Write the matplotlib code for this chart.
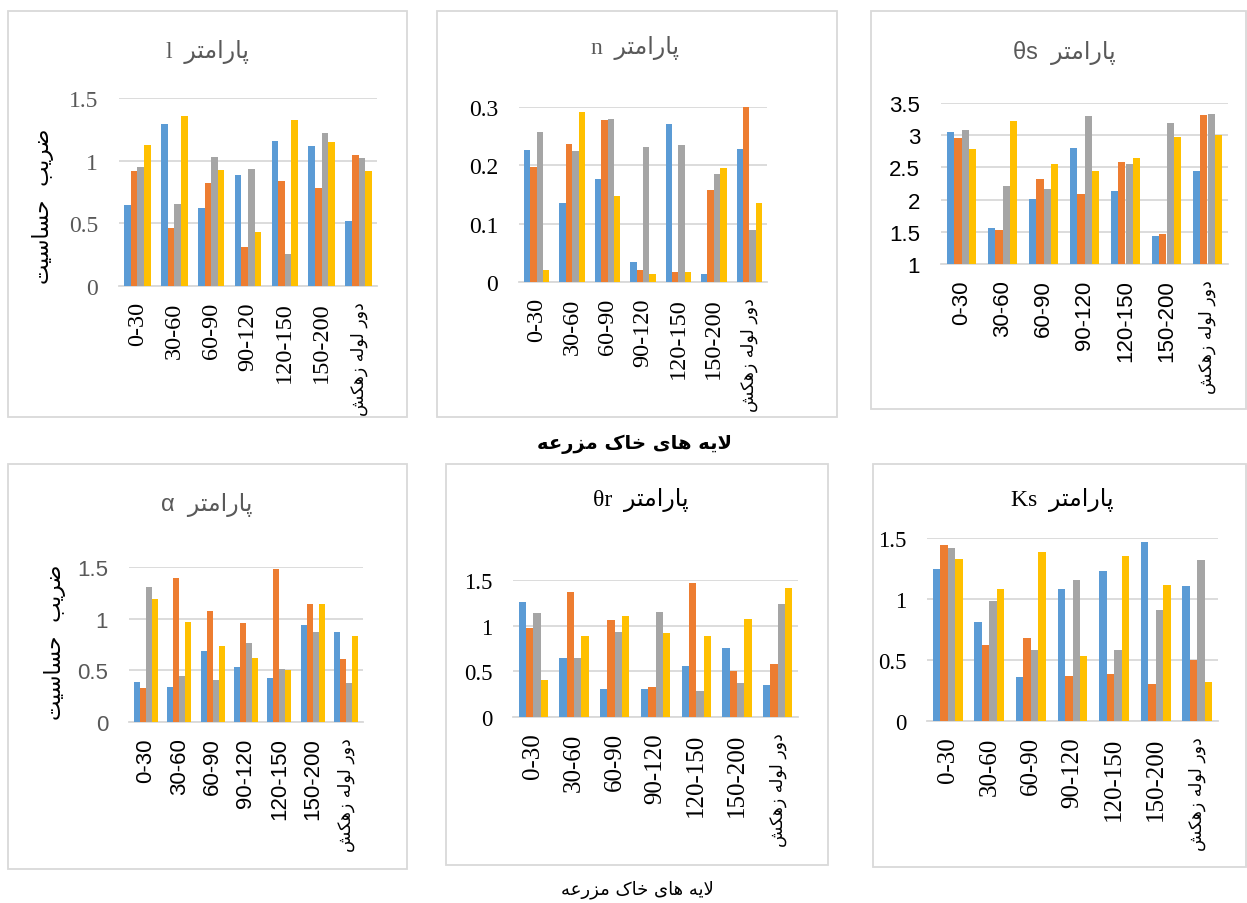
import matplotlib.pyplot as plt
from matplotlib.patches import Rectangle
import numpy as np

W, H = 1247, 904

# Persian letters -> (isolated, final, initial, medial) presentation forms
FORMS = {
    'ا': ('\uFE8D', '\uFE8E', None, None),
    'ب': ('\uFE8F', '\uFE90', '\uFE91', '\uFE92'),
    'پ': ('\uFB56', '\uFB57', '\uFB58', '\uFB59'),
    'ت': ('\uFE95', '\uFE96', '\uFE97', '\uFE98'),
    'ح': ('\uFEA1', '\uFEA2', '\uFEA3', '\uFEA4'),
    'خ': ('\uFEA5', '\uFEA6', '\uFEA7', '\uFEA8'),
    'د': ('\uFEA9', '\uFEAA', None, None),
    'ر': ('\uFEAD', '\uFEAE', None, None),
    'ز': ('\uFEAF', '\uFEB0', None, None),
    'س': ('\uFEB1', '\uFEB2', '\uFEB3', '\uFEB4'),
    'ش': ('\uFEB5', '\uFEB6', '\uFEB7', '\uFEB8'),
    'ض': ('\uFEBD', '\uFEBE', '\uFEBF', '\uFEC0'),
    'ع': ('\uFEC9', '\uFECA', '\uFECB', '\uFECC'),
    'ک': ('\uFB8E', '\uFB8F', '\uFB90', '\uFB91'),
    'ل': ('\uFEDD', '\uFEDE', '\uFEDF', '\uFEE0'),
    'م': ('\uFEE1', '\uFEE2', '\uFEE3', '\uFEE4'),
    'ه': ('\uFEE9', '\uFEEA', '\uFEEB', '\uFEEC'),
    'و': ('\uFEED', '\uFEEE', None, None),
    'ی': ('\uFBFC', '\uFBFD', '\uFBFE', '\uFBFF'),
}


def fa(s):
    # shape persian text and put it in visual (left to right) order
    out = []
    i = 0
    while i < len(s):
        ch = s[i]
        if ch not in FORMS:
            out.append(ch)
            i += 1
            continue
        prev = s[i-1] if i > 0 else ''
        jp = prev in FORMS and FORMS[prev][2] is not None
        if ch == 'ل' and i + 1 < len(s) and s[i+1] == 'ا':
            out.append('\uFEFC' if jp else '\uFEFB')
            i += 2
            continue
        nxt = s[i+1] if i + 1 < len(s) else ''
        jn = nxt in FORMS and FORMS[ch][2] is not None
        f = FORMS[ch]
        if jp and jn:
            out.append(f[3])
        elif jp:
            out.append(f[1])
        elif jn:
            out.append(f[2])
        else:
            out.append(f[0])
        i += 1
    return ''.join(out[::-1])


categories = ['0-30', '30-60', '60-90', '90-120', '120-150', '150-200', 'دور لوله زهکش']
colors = ['#5B9BD5', '#ED7D31', '#A5A5A5', '#FFC000']

# parameter l
l_blue = [0.65, 1.294, 0.622, 0.889, 1.158, 1.116, 0.518]
l_orange = [0.915, 0.462, 0.822, 0.315, 0.835, 0.785, 1.046]
l_gray = [0.953, 0.654, 1.027, 0.931, 0.259, 1.22, 1.022]
l_yellow = [1.126, 1.358, 0.923, 0.432, 1.326, 1.148, 0.918]

# parameter n
n_blue = [0.226, 0.135, 0.176, 0.035, 0.2715, 0.014, 0.228]
n_orange = [0.197, 0.236, 0.278, 0.0205, 0.017, 0.158, 0.302]
n_gray = [0.257, 0.224, 0.2795, 0.232, 0.2345, 0.186, 0.089]
n_yellow = [0.020, 0.291, 0.148, 0.013, 0.017, 0.195, 0.135]

# parameter theta s
ts_blue = [3.049, 1.555, 2.011, 2.80, 2.131, 1.43, 2.447]
ts_orange = [2.961, 1.529, 2.317, 2.094, 2.582, 1.467, 3.318]
ts_gray = [3.08, 2.208, 2.167, 3.298, 2.556, 3.184, 3.329]
ts_yellow = [2.789, 3.225, 2.546, 2.442, 2.639, 2.966, 2.997]

# parameter alpha
a_blue = [0.389, 0.334, 0.684, 0.533, 0.421, 0.935, 0.874]
a_orange = [0.331, 1.391, 1.07, 0.957, 1.478, 1.144, 0.607]
a_gray = [1.304, 0.447, 0.411, 0.765, 0.514, 0.871, 0.376]
a_yellow = [1.195, 0.964, 0.736, 0.623, 0.504, 1.14, 0.832]

# parameter theta r
tr_blue = [1.264, 0.647, 0.305, 0.312, 0.559, 0.756, 0.349]
tr_orange = [0.973, 1.373, 1.064, 0.331, 1.467, 0.505, 0.585]
tr_gray = [1.141, 0.647, 0.93, 1.151, 0.283, 0.367, 1.239]
tr_yellow = [0.41, 0.886, 1.104, 0.919, 0.883, 1.072, 1.413]

# parameter Ks
ks_blue = [1.249, 0.815, 0.36, 1.083, 1.233, 1.47, 1.107]
ks_orange = [1.443, 0.627, 0.684, 0.368, 0.382, 0.305, 0.499]
ks_gray = [1.418, 0.982, 0.586, 1.159, 0.586, 0.911, 1.32]
ks_yellow = [1.331, 1.083, 1.385, 0.532, 1.35, 1.113, 0.316]

l_ticks = [0, 0.5, 1, 1.5]
n_ticks = [0, 0.1, 0.2, 0.3]
ts_ticks = [1, 1.5, 2, 2.5, 3, 3.5]

SERIF = ['Liberation Serif', 'DejaVu Sans']
SANS = ['Liberation Sans', 'DejaVu Sans']

fig = plt.figure(figsize=(W/100, H/100), dpi=100)


def fx(px):
    return px / W


def fy(py):
    return 1 - py / H


def panel(box, area, series, ticks, latin, family, fsy, fsx,
          tcol, ycol, title_xy, ylabel_xy=None):
    x0, y0, x1, y1 = box
    fig.add_artist(Rectangle((fx(x0), fy(y1)), fx(x1) - fx(x0), fy(y0) - fy(y1),
                             transform=fig.transFigure, fill=False,
                             edgecolor='#D9D9D9', lw=1.3))
    ax0, ay0, ax1, ay1 = area
    ax = fig.add_axes([fx(ax0), fy(ay1), fx(ax1) - fx(ax0), fy(ay0) - fy(ay1)])
    x = np.arange(len(categories))
    w = 0.18
    for k, (vals, c) in enumerate(zip(series, colors)):
        ax.bar(x + (k - 1.5) * w, vals, w, color=c, zorder=3)
    ax.set_xlim(-0.5, 6.5)
    ax.set_ylim(ticks[0], ticks[-1])
    ax.set_yticks(ticks)
    ax.set_yticklabels(['%g' % t for t in ticks], family=family, fontsize=fsy, color=ycol)
    ax.set_xticks(x)
    labs = ax.set_xticklabels(categories[:-1] + [fa(categories[-1])], rotation=90,
                              family=family, fontsize=fsx)
    labs[-1].set_fontsize(12.5)
    labs[-1].set_family('DejaVu Sans')
    ax.tick_params(length=0)
    ax.tick_params(axis='x', pad=11)
    ax.tick_params(axis='y', pad=15)
    ax.yaxis.grid(True, color='#D9D9D9', lw=1.3)
    ax.set_axisbelow(True)
    for s in ['top', 'left', 'right']:
        ax.spines[s].set_visible(False)
    ax.spines['bottom'].set_color('#D9D9D9')
    ax.spines['bottom'].set_linewidth(1.3)
    fig.text(fx(title_xy[0]), fy(title_xy[1]), latin + '  ' + fa('پارامتر'),
             ha='center', va='center', fontsize=17, color=tcol, family=family)
    if ylabel_xy:
        fig.text(fx(ylabel_xy[0]), fy(ylabel_xy[1]), fa('ضریب  حساسیت'), rotation=90,
                 ha='center', va='center', fontsize=15.5, color='black', family='DejaVu Sans')
    return ax


panel((8, 12, 407, 418), (119, 99, 377, 287), [l_blue, l_orange, l_gray, l_yellow],
      l_ticks, 'l', SERIF, 17, 17.5, '#595959', '#595959', (207, 52), (43, 206))
panel((437, 12, 837, 418), (519, 108, 767, 283), [n_blue, n_orange, n_gray, n_yellow],
      n_ticks, 'n', SERIF, 17, 17.5, '#595959', 'black', (635, 48))
panel((871, 12, 1246, 410), (941, 104, 1228, 265), [ts_blue, ts_orange, ts_gray, ts_yellow],
      ts_ticks, 'θs', SANS, 16, 16, '#595959', 'black', (1064, 53))
panel((8, 465, 407, 870), (129, 568, 363, 723), [a_blue, a_orange, a_gray, a_yellow],
      l_ticks, 'α', SANS, 16, 16, '#595959', '#595959', (207, 505), (55, 642))
panel((446, 465, 828, 866), (513, 581, 798, 718), [tr_blue, tr_orange, tr_gray, tr_yellow],
      l_ticks, 'θr', SERIF, 16.5, 18, 'black', 'black', (641, 500))
panel((873, 465, 1246, 868), (927, 539, 1218, 722), [ks_blue, ks_orange, ks_gray, ks_yellow],
      l_ticks, 'Ks', SERIF, 16.5, 18, 'black', 'black', (1062, 500))

fig.text(fx(635), fy(444), fa('لایه های خاک مزرعه'), ha='center', va='center',
         fontsize=14, fontweight='bold', family='DejaVu Sans')
fig.text(fx(637), fy(890), fa('لایه های خاک مزرعه'), ha='center', va='center',
         fontsize=13, family='DejaVu Sans')

fig.savefig('out.png', dpi=100)
